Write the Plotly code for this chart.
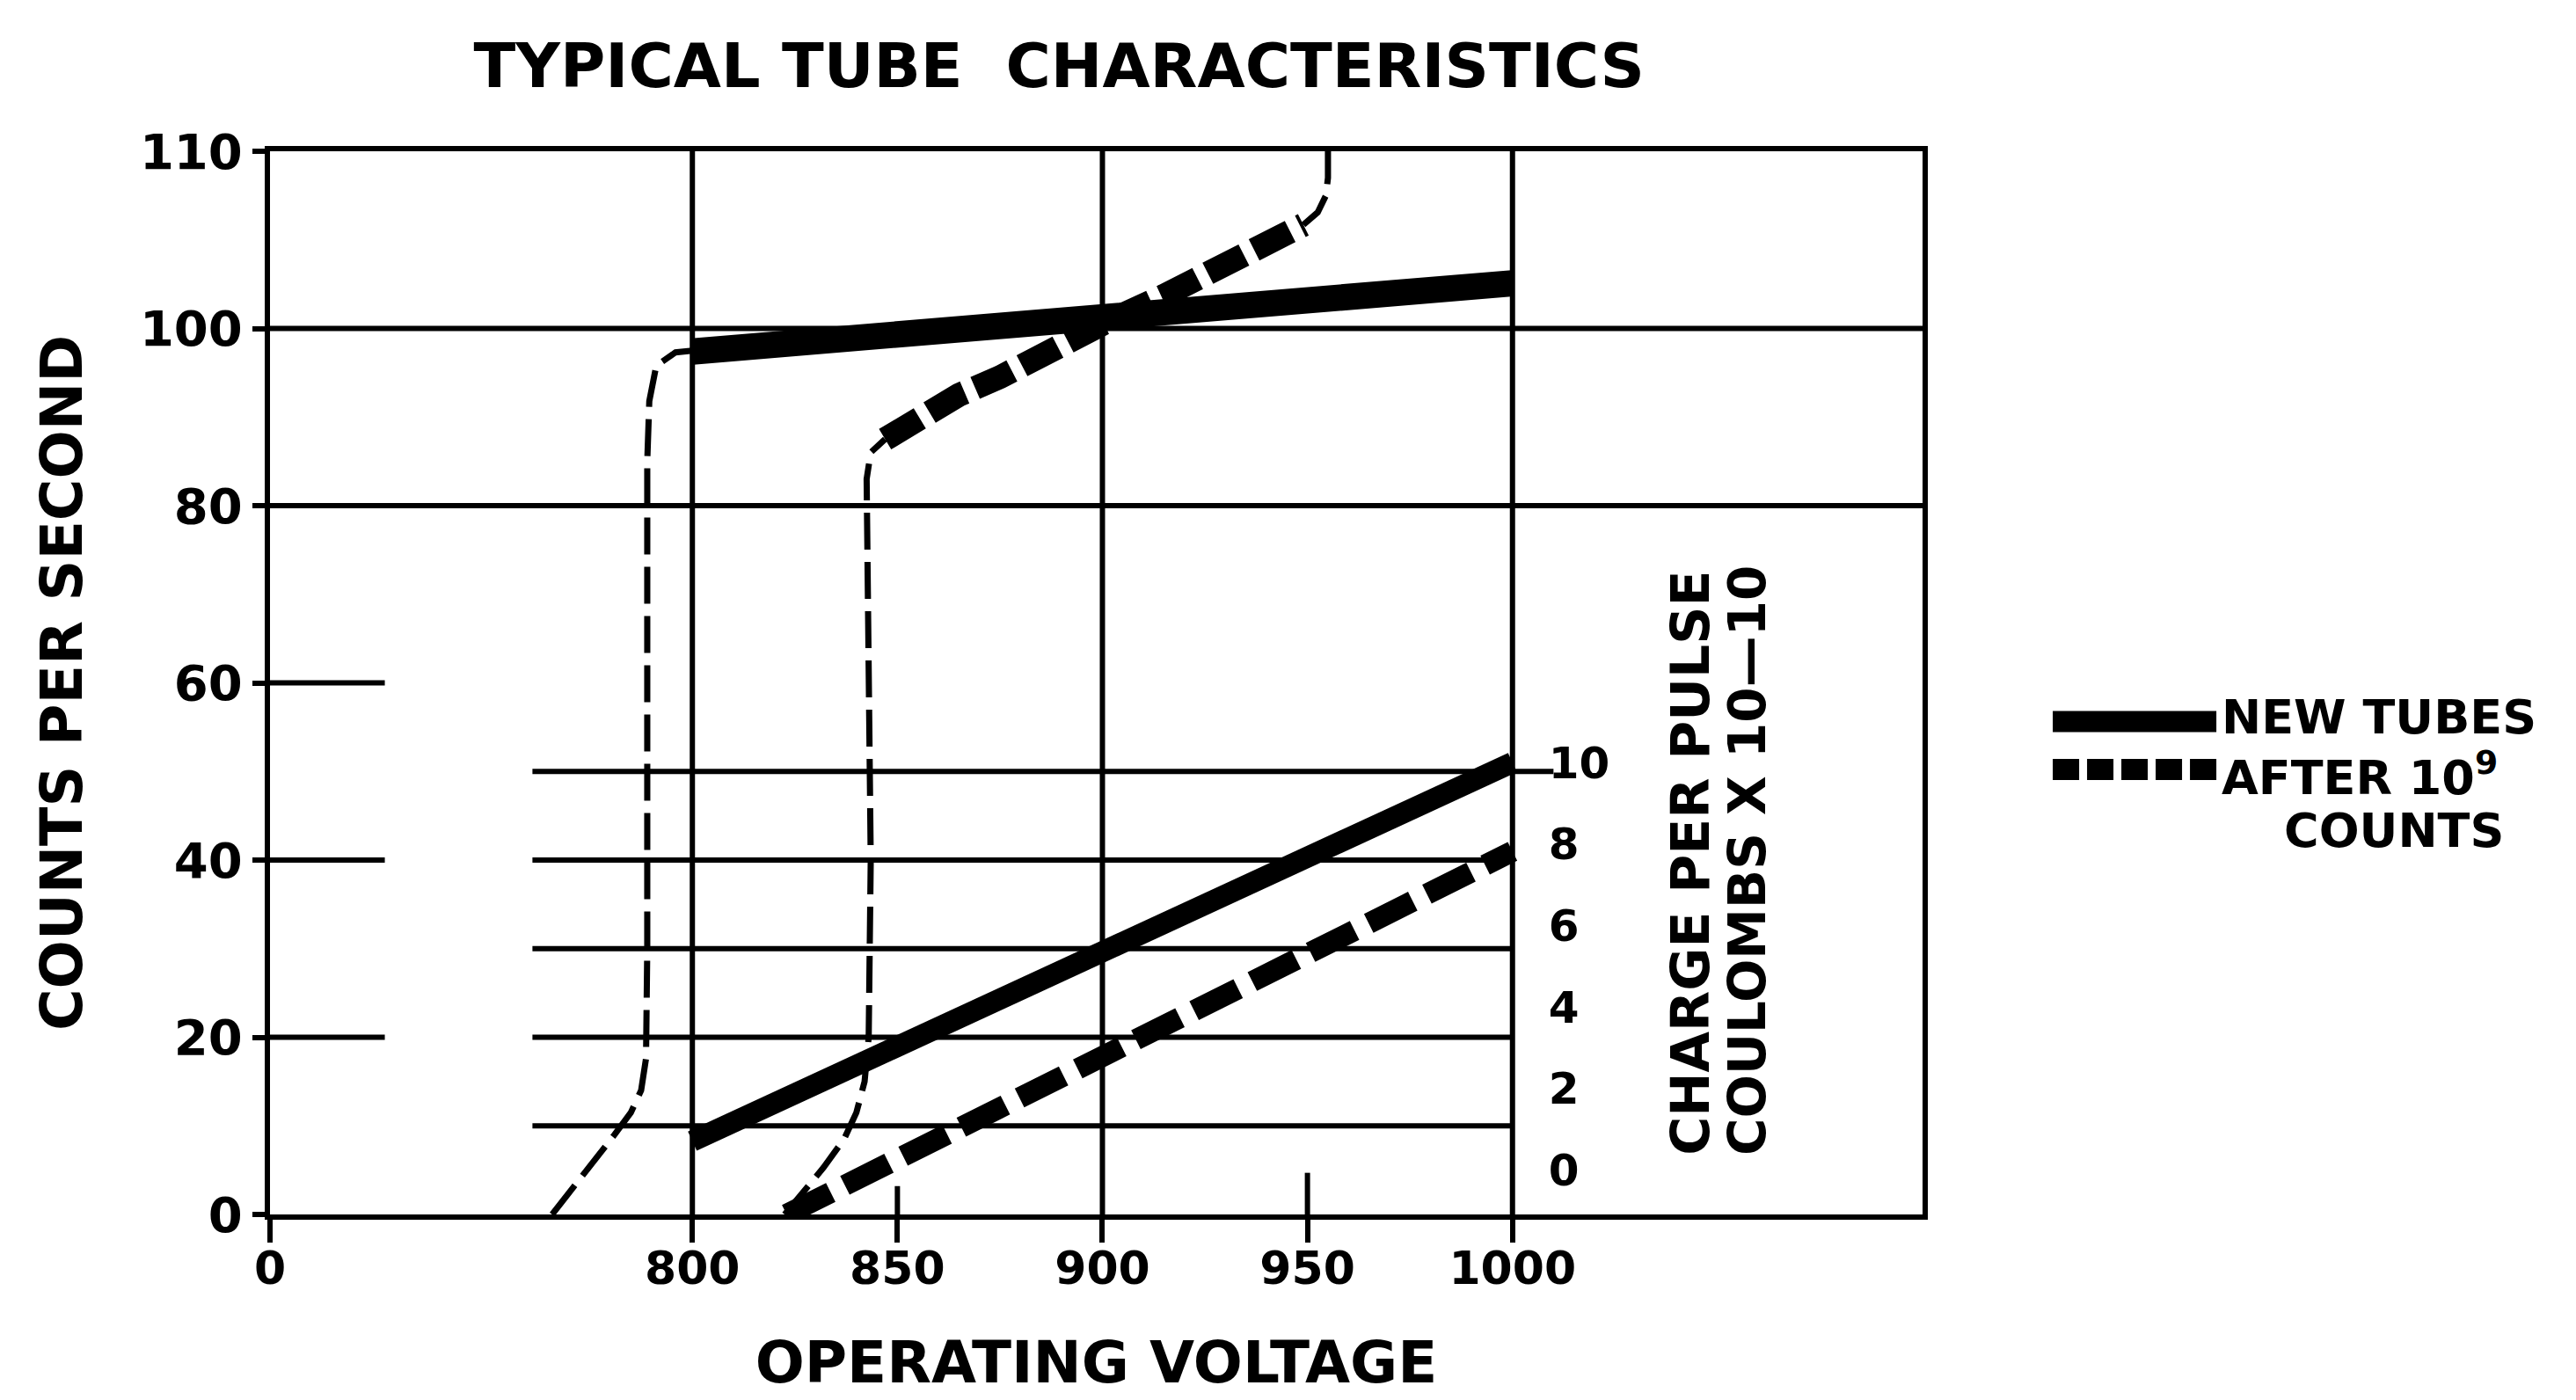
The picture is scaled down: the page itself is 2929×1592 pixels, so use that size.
import plotly.graph_objects as go

# ---------------------------------------------------------------------------
# Values.
# The printed axes are "broken": the x label "0" sits where ~697 V would be on
# the linear voltage scale, and the top y gridline labelled "110" sits where
# 120 would be.  Counts below are in the linear plotting scale.
# ---------------------------------------------------------------------------
x_tick_vals = [697, 800, 850, 900, 950, 1000]
x_tick_text = ["0", "800", "850", "900", "950", "1000"]
y_tick_vals = [0, 20, 40, 60, 80, 100, 120]
y_tick_text = ["0", "20", "40", "60", "80", "100", "110"]
charge_tick_vals = [0, 2, 4, 6, 8, 10]

# New tubes: counting-rate curve (threshold rise, then plateau)
new_rise_v = [765.8, 771, 776.6, 781, 785, 787.5, 788.7, 789, 789, 789, 789.5, 791.2, 795.9, 800]
new_rise_c = [0, 3, 6.5, 9, 11.5, 14, 17.6, 30, 62, 85, 91.8, 95.8, 97.3, 97.5]
new_plateau_v = [800, 1000]
new_plateau_c = [97.4, 105.1]

# After 10^9 counts: counting-rate curve
aged_rise_v = [822.5, 827, 832, 837, 840, 842, 843, 843.5, 843, 842.5, 842.5, 843.5, 847]
aged_rise_c = [0, 2.6, 5.3, 8.5, 11.5, 15, 20, 40, 60, 75, 83, 86, 87.5]
aged_slope_v = [847, 852, 865, 875, 886, 900, 915, 930, 940, 949]
aged_slope_c = [87.5, 89, 92.5, 94.5, 97.3, 100.5, 103.7, 107, 109, 111.7]
aged_top_v = [949, 952.5, 954.5, 955, 955]
aged_top_c = [111.7, 113.1, 115, 117, 120]

# Charge per pulse (coulombs x 10^-10), read against the printed charge scale
# (the printed scale's 0 sits a little above the voltage axis)
new_charge_v = [800, 1000]
new_charge_q = [0.71, 10.0]
aged_charge_v = [823, 1000]
aged_charge_q = [-1.09, 7.82]

# Counts levels of the short charge-scale rulings
charge_rule_c = [10, 20, 30, 40, 50]

# ---------------------------------------------------------------------------
FONT = "DejaVu Sans"
INK = "black"
GW = 6  # grid line width

def bold(size):
    return dict(family=FONT, size=size, color=INK, weight="bold")

fig = go.Figure()

thin = dict(color=INK, width=7, dash="42px,14px")

fig.add_trace(go.Scatter(x=new_rise_v, y=new_rise_c, mode="lines", line=thin,
                         name="NEW TUBES", hoverinfo="skip"))
fig.add_trace(go.Scatter(x=new_plateau_v, y=new_plateau_c, mode="lines",
                         line=dict(color=INK, width=30), name="NEW TUBES"))
fig.add_trace(go.Scatter(x=aged_rise_v, y=aged_rise_c, mode="lines", line=thin,
                         name="AFTER 10^9 COUNTS", hoverinfo="skip"))
fig.add_trace(go.Scatter(x=aged_slope_v, y=aged_slope_c, mode="lines",
                         line=dict(color=INK, width=27, dash="46px,13px"),
                         name="AFTER 10^9 COUNTS"))
fig.add_trace(go.Scatter(x=aged_top_v, y=aged_top_c, mode="lines", line=thin,
                         name="AFTER 10^9 COUNTS", hoverinfo="skip"))
fig.add_trace(go.Scatter(x=new_charge_v, y=new_charge_q, yaxis="y2", mode="lines",
                         line=dict(color=INK, width=24), name="NEW TUBES"))
fig.add_trace(go.Scatter(x=aged_charge_v, y=aged_charge_q, yaxis="y2", mode="lines",
                         line=dict(color=INK, width=24, dash="56px,18px"),
                         name="AFTER 10^9 COUNTS"))

shapes = []
def seg(x0, x1, y0, y1, xref="x", yref="y", width=GW, dash=None, layer="below"):
    ln = dict(color=INK, width=width)
    if dash:
        ln["dash"] = dash
    shapes.append(dict(type="line", xref=xref, yref=yref, x0=x0, x1=x1, y0=y0, y1=y1,
                       line=ln, layer=layer))

for v in [800, 900, 1000]:
    seg(v, v, 0, 120)
for c in [80, 100]:
    seg(697, 1100, c, c)
for c in [20, 40, 60]:
    seg(697, 725, c, c)
for c in charge_rule_c:
    seg(761, 1010 if c == 50 else 1000, c, c)
seg(850, 850, 0, 3.2)
seg(950, 950, 0, 4.7)

# Legend (drawn by hand so that the samples keep the heavy line weights)
seg(1.0788, 1.1778, 0.4636, 0.4636, xref="paper", yref="paper", width=24, layer="above")
seg(1.0788, 1.1778, 0.4185, 0.4185, xref="paper", yref="paper", width=24,
    dash="30px,9px", layer="above")
fig.add_annotation(x=1.1800, y=0.4680, xref="paper", yref="paper", text="NEW TUBES",
                   xanchor="left", yanchor="middle", showarrow=False, font=bold(54))
fig.add_annotation(x=1.1800, y=0.4139, xref="paper", yref="paper",
                   text="AFTER 10<sup>9</sup>",
                   xanchor="left", yanchor="middle", showarrow=False, font=bold(54))
fig.add_annotation(x=1.2850, y=0.3614, xref="paper", yref="paper", text="COUNTS",
                   xanchor="center", yanchor="middle", showarrow=False, font=bold(54))

# Charge scale title
fig.add_annotation(x=1043.2, y=6.45, xref="x", yref="y", text="CHARGE PER PULSE",
                   textangle=-90, showarrow=False, xanchor="center", yanchor="bottom",
                   font=bold(60))
fig.add_annotation(x=1057.2, y=6.45, xref="x", yref="y", text="COULOMBS X 10—10",
                   textangle=-90, showarrow=False, xanchor="center", yanchor="bottom",
                   font=bold(58))

fig.update_layout(
    width=2929, height=1592,
    margin=dict(l=299, r=751, t=164, b=219),
    paper_bgcolor="white", plot_bgcolor="white",
    showlegend=False,
    title=dict(text="TYPICAL TUBE  CHARACTERISTICS", x=0.4775, xref="paper",
               xanchor="center", y=1 - 66 / 1592, yanchor="middle", font=bold(70)),
    xaxis=dict(range=[697, 1100], tickvals=x_tick_vals, ticktext=x_tick_text,
               showgrid=False, zeroline=False, showline=True, linecolor=INK, linewidth=GW,
               mirror=True, ticks="outside", ticklen=26, tickwidth=GW, tickcolor=INK,
               tickfont=bold(52), ticklabelstandoff=-15,
               title=dict(text="OPERATING VOLTAGE", standoff=56, font=bold(66))),
    yaxis=dict(range=[0, 120], tickvals=y_tick_vals, ticktext=y_tick_text,
               showgrid=False, zeroline=False, showline=True, linecolor=INK, linewidth=GW,
               mirror=True, ticks="outside", ticklen=14, tickwidth=GW, tickcolor=INK,
               tickfont=bold(56),
               title=dict(text="COUNTS PER SECOND", standoff=46, font=bold(65))),
    yaxis2=dict(overlaying="y", anchor="free", position=0.7519, side="right",
                range=[-1.09, 25.0], tickvals=charge_tick_vals, showgrid=False,
                zeroline=False, showline=False, ticks="", ticklabelstandoff=40,
                tickfont=bold(50)),
    shapes=shapes,
)

fig.write_html("out.html")
